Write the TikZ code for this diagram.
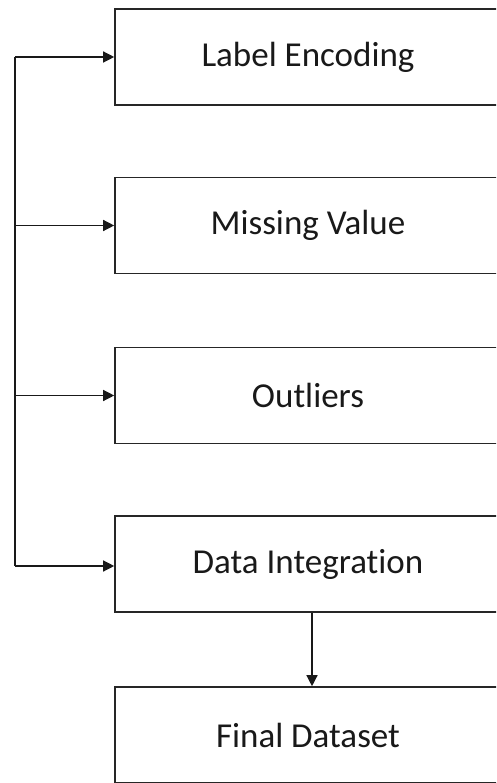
\documentclass[tikz,border=0pt]{standalone}
\usepackage{fontspec}
\setmainfont{Carlito}[Ligatures=NoCommon]
\usetikzlibrary{arrows.meta}
\begin{document}
\begin{tikzpicture}[x=1pt,y=-1pt,
  stage/.style={draw=black!85,line width=1.6pt,minimum width=386pt,minimum height=96pt,inner sep=0pt,font=\fontsize{35}{40}\selectfont,text=black!90},
  conn/.style={line width=1.3pt,draw=black!90},
  tipd/.style={-{Triangle[length=11pt,width=11pt]}}]
\useasboundingbox (0,0) rectangle (496,783);
\clip (0,0) rectangle (496,783);
\node[stage] (b1) at (308,57) {Label Encoding};
\node[stage] (b2) at (308,225.5) {Missing Value};
\node[stage] (b3) at (308,395.5) {Outliers};
\node[stage] (b4) at (308,564) {Data Integration};
\node[stage] (b5) at (308,735) {Final Dataset};
\coordinate (top) at (15,57);
\coordinate (bot) at (15,566);
\draw[conn] (top) -- (bot);
\draw[conn,tipd] (top) -- (b1.west);
\draw[conn,tipd] (top |- b2.west) -- (b2.west);
\draw[conn,tipd] (top |- b3.west) -- (b3.west);
\draw[conn,tipd] (bot) -- (b4.west |- bot);
\draw[conn,tipd] ([xshift=4pt]b4.south) -- ([xshift=4pt]b5.north);
\end{tikzpicture}
\end{document}
